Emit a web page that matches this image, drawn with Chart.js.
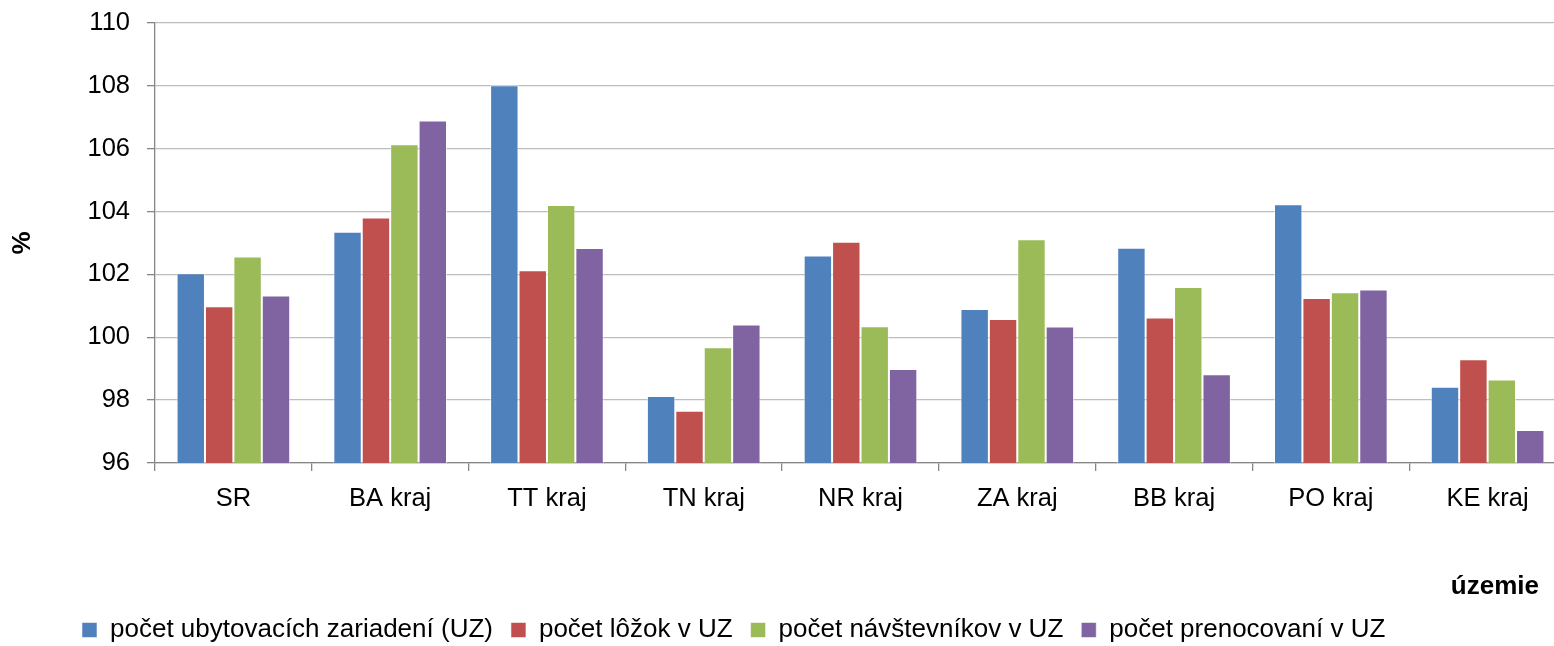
<!DOCTYPE html>
<html lang="sk">
<head>
<meta charset="utf-8">
<title>Index ubytovacích zariadení podľa krajov</title>
<script src="https://cdn.jsdelivr.net/npm/chart.js@4/dist/chart.umd.min.js"></script>
<style>
  html, body { margin: 0; padding: 0; background: #fff; overflow: hidden; }
  /* graf je o kúsok širší ako okno – pravý okraj je v predlohe orezaný */
  #obal { position: relative; width: 1566px; height: 646px; }
</style>
</head>
<body>
<div id="obal"><canvas id="graf"></canvas></div>
<script>
const PISMO = '"Liberation Sans", Arial, sans-serif';

const kategorie = ['SR', 'BA kraj', 'TT kraj', 'TN kraj', 'NR kraj', 'ZA kraj', 'BB kraj', 'PO kraj', 'KE kraj'];
const zariadenia   = [102.04, 103.36, 108.02, 98.13, 102.60, 100.90, 102.85, 104.23, 98.43];
const lozka        = [100.99, 103.81, 102.13, 97.66, 103.04, 100.58, 100.63, 101.25, 99.30];
const navstevnici  = [102.57, 106.14, 104.21, 99.68, 100.35, 103.12, 101.60, 101.43, 98.66];
const prenocovania = [101.33, 106.90, 102.84, 100.41, 98.99, 100.34, 98.82, 101.52, 97.05];

const nazvySerii = ['počet ubytovacích zariadení (UZ)', 'počet lôžok v UZ', 'počet návštevníkov v UZ', 'počet prenocovaní v UZ'];
const farby = ['#4F81BD', '#C0504D', '#9BBB59', '#8064A2'];

// legenda posunutá doľava a trochu nižšie, titulok osi x vpravo dole
const upravy = {
  id: 'upravy',
  afterLayout(chart) {
    const lg = chart.legend;
    const w = lg.right - lg.left;
    lg.left = 64; lg.right = lg.left + w;
    lg.top += 7; lg.bottom += 7;
  },
  afterDraw(chart) {
    const ctx = chart.ctx;
    ctx.save();
    ctx.font = 'bold 26px ' + PISMO;
    ctx.fillStyle = '#000';
    ctx.textAlign = 'right';
    ctx.textBaseline = 'middle';
    ctx.fillText('územie', 1539, 587);
    ctx.restore();
  }
};

new Chart(document.getElementById('graf'), {
  type: 'bar',
  data: {
    labels: kategorie,
    datasets: [zariadenia, lozka, navstevnici, prenocovania].map((d, i) => ({
      label: nazvySerii[i], data: d,
      backgroundColor: farby[i], borderColor: 'rgba(255,255,255,.55)', borderWidth: 1,
      barPercentage: 1, categoryPercentage: 0.725
    }))
  },
  options: {
    responsive: true, maintainAspectRatio: false, animation: false,
    layout: { padding: { top: 23, left: 0, right: 0, bottom: 0 } },
    plugins: {
      tooltip: { enabled: false },
      legend: {
        position: 'bottom', align: 'start',
        labels: { boxWidth: 15, boxHeight: 15, padding: 18, color: '#000', font: { family: PISMO, size: 26 } }
      }
    },
    scales: {
      x: {
        grid: { drawOnChartArea: false, drawTicks: true, tickLength: 8, color: '#868686', lineWidth: 1.3 },
        border: { color: '#868686', width: 1.3 },
        ticks: { color: '#000', padding: 13, font: { family: PISMO, size: 25.5 } },
        afterFit(s) { s.height = 129; }
      },
      y: {
        min: 96, max: 110,
        grid: { color: '#bdbdbd', lineWidth: 1.3, tickLength: 8, tickColor: '#868686' },
        border: { color: '#868686', width: 1.3 },
        ticks: { stepSize: 2, color: '#000', padding: 17, font: { family: PISMO, size: 25.5 } },
        title: { display: true, text: '%', color: '#000', padding: { top: 7, bottom: 0 }, font: { family: PISMO, size: 26, weight: 'bold' } },
        afterFit(s) { s.width = 155; s.paddingTop = 0; s.paddingBottom = 0; }
      }
    }
  },
  plugins: [upravy]
});
</script>
</body>
</html>
